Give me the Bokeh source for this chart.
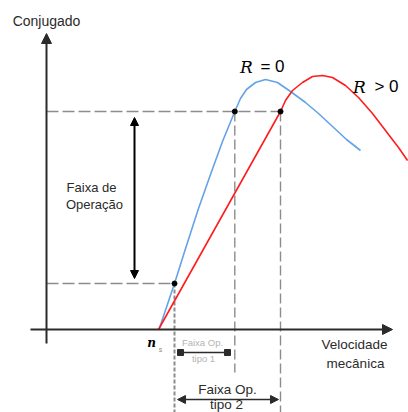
import numpy as np
from bokeh.plotting import figure
from bokeh.models import Range1d, Arrow, NormalHead
from bokeh.core.properties import value
from bokeh.embed import file_html
from bokeh.resources import INLINE

# Torque-speed curves (mechanical speed, torque), origin at the axes crossing
speed_r0 = [112.5, 128, 140, 152, 164, 176, 188.3, 194, 200, 209, 219, 231, 244, 259, 272, 286, 300, 314]
torque_r0 = [0, 46, 84, 121, 155, 188, 218, 231, 240, 247, 250, 247, 238, 227, 216, 203, 190, 179]
speed_rp = [112, 234, 239, 246, 256, 266, 276, 286, 299, 312, 326, 339, 352, 361]
torque_rp = [0, 218, 229, 239, 247, 253, 254, 252, 244, 232, 216, 199, 182, 169]

ns_speed = 112           # synchronous speed
torque_levels = [46, 218]  # limits of the operating band

axis_label_y = "Conjugado"
axis_label_x = ["Velocidade", "mecânica"]
band_label = ["Faixa de", "Operação"]
type1_label = ["Faixa Op.", "tipo 1"]
type2_label = ["Faixa Op.", "tipo 2"]

FONT = value("Liberation Sans")
BLUE = "#64a3e6"
RED = "#ff1c1c"
GREY = "#8c8c8c"
DARK = "#2b2b2b"

X0, X1 = -46, 362
Y0, Y1 = -83, 329

p = figure(width=408, height=412, x_range=Range1d(X0, X1), y_range=Range1d(Y0, Y1),
           x_axis_type=None, y_axis_type=None, toolbar_location=None,
           output_backend="svg", min_border=0)
p.outline_line_color = None
p.background_fill_color = "white"
p.border_fill_color = "white"


def rising_speed(speeds, torques, level):
    k = int(np.argmax(torques)) + 1
    return float(np.interp(level, torques[:k], speeds[:k]))


t_low, t_high = torque_levels
s_r0_low = rising_speed(speed_r0, torque_r0, t_low)
s_r0_high = rising_speed(speed_r0, torque_r0, t_high)
s_rp_high = rising_speed(speed_rp, torque_rp, t_high)

# dashed guide lines
p.line([0, s_rp_high], [t_high, t_high], line_color=GREY, line_width=1.6, line_dash="12 4")
p.line([0, s_r0_low], [t_low, t_low], line_color=GREY, line_width=1.6, line_dash="12 4")
p.line([s_r0_low, s_r0_low], [t_low, Y0], line_color=GREY, line_width=2, line_dash="4 2")
p.line([s_r0_high, s_r0_high], [t_high, -43], line_color=GREY, line_width=1.4, line_dash="10 4")
p.line([s_rp_high, s_rp_high], [t_high, Y0], line_color=GREY, line_width=1.4, line_dash="10 4")

# axes with arrowheads
p.add_layout(Arrow(x_start=0, y_start=-14, x_end=0, y_end=296, line_color=DARK, line_width=2,
                   end=NormalHead(size=10, fill_color=DARK, line_color=DARK)))
p.add_layout(Arrow(x_start=-16, y_start=0, x_end=346, y_end=0, line_color=DARK, line_width=2,
                   end=NormalHead(size=10, fill_color=DARK, line_color=DARK)))

# torque curves
p.line(speed_r0, torque_r0, line_color=BLUE, line_width=1.6)
p.line(speed_rp, torque_rp, line_color=RED, line_width=1.6)

# operating points
p.scatter([s_r0_high, s_rp_high, s_r0_low], [t_high, t_high, t_low], size=5,
          marker="circle", fill_color="black", line_color="black")

# operating band arrow
p.add_layout(Arrow(x_start=88, y_start=t_low + 5, x_end=88, y_end=t_high - 6,
                   line_color="black", line_width=2,
                   start=NormalHead(size=8, fill_color="black", line_color="black"),
                   end=NormalHead(size=8, fill_color="black", line_color="black")))

# range type 1
p.line([132, 184], [-23, -23], line_color=DARK, line_width=1.5)
p.scatter([134, 181], [-23, -23], marker="square", size=6, fill_color=DARK, line_color=DARK)

# range type 2
p.add_layout(Arrow(x_start=131, y_start=-70, x_end=232, y_end=-70, line_color=DARK, line_width=1.5,
                   start=NormalHead(size=8, fill_color=DARK, line_color=DARK),
                   end=NormalHead(size=8, fill_color=DARK, line_color=DARK)))

# labels
p.text([0], [309], text=[axis_label_y], text_font=FONT, text_font_size="14px",
       text_color=DARK, text_align="center", text_baseline="middle")
p.text([308, 309], [-14.5, -33.5], text=axis_label_x, text_font=FONT, text_font_size="13.5px",
       text_color=DARK, text_align="center", text_baseline="middle")
p.text([45, 48], [142.5, 125], text=band_label, text_font=FONT, text_font_size="13px",
       text_color=DARK, text_align="center", text_baseline="middle")
p.text([156, 157], [-12.5, -29], text=type1_label, text_font=FONT, text_font_size="9.5px",
       text_color="#b4b4b4", text_align="center", text_baseline="middle")
p.text([181, 180], [-60, -75], text=type2_label, text_font=FONT, text_font_size="13.5px",
       text_color=DARK, text_align="center", text_baseline="middle")

# R labels
p.text([200, 313], [263, 243], text=["R", "R"], text_font=value("DejaVu Serif"),
       text_font_style="italic", text_font_size="17px", text_color="black",
       text_align="center", text_baseline="middle")
p.text([226, 340], [263, 243], text=["= 0", "> 0"], text_font=FONT, text_font_size="17px",
       text_color="black", text_align="center", text_baseline="middle")

# synchronous speed label
p.text([ns_speed - 7], [-13], text=["n"], text_font=value("DejaVu Serif"),
       text_font_style="bold italic", text_font_size="12px", text_color="black",
       text_align="center", text_baseline="middle")
p.text([ns_speed + 2], [-20], text=["s"], text_font=FONT, text_font_size="7px",
       text_color="#888888", text_align="center", text_baseline="middle")

open("out.html", "w").write(file_html(p, INLINE))
